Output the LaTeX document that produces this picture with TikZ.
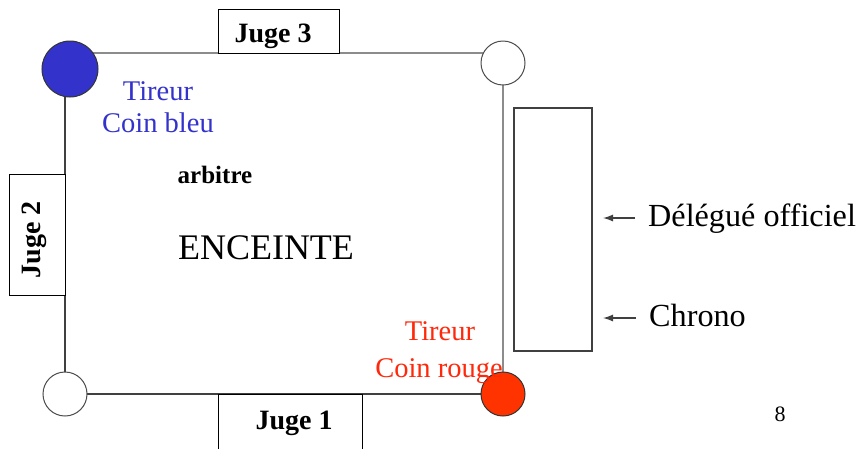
\documentclass[tikz,border=0pt]{standalone}
\usepackage{fontspec}
\setmainfont{Liberation Serif}
\usetikzlibrary{arrows.meta}
\definecolor{tblue}{RGB}{51,51,204}
\definecolor{tred}{RGB}{255,51,0}
\definecolor{tredtxt}{RGB}{255,40,10}
\begin{document}
\begin{tikzpicture}[x=1pt,y=-1pt,
  judge/.style={draw=black,line width=1pt,fill=white,inner sep=0pt,font=\fontsize{28}{28}\selectfont\bfseries},
  corner/.style={circle,draw=black!70,line width=1pt,inner sep=0pt,minimum size=44pt,fill=white},
  lbl/.style={inner sep=0pt,font=\fontsize{32.2}{32.2}\selectfont},
  tir/.style={inner sep=0pt,align=center,font=\fontsize{28.5}{36}\selectfont},
  ptr/.style={-{Latex[length=10pt,width=7pt]},line width=1.3pt,black!75}]
\clip (0,0) rectangle (863,448);
\fill[white] (0,0) rectangle (863,448);
% ring corners
\coordinate (TL) at (65,53);
\coordinate (TR) at (503,53);
\coordinate (BR) at (503,394);
\coordinate (BL) at (65,394);
\draw[black!45,line width=2pt] (TL) -- (TR);
\draw[black!45,line width=2pt] (TR) -- (BR);
\draw[black!75,line width=1.2pt] (TL) -- (BL);
\draw[black!75,line width=1.2pt] (BL) -- (BR);
% corner circles
\node[corner,minimum size=56pt,fill=tblue,draw=black!80] (blue) at (70,69) {};
\node[corner] (ctr) at (503,63) {};
\node[corner] (cbl) at (65,394) {};
\node[corner,fill=tred,draw=black!80] (red) at (503,394) {};
% judges
\node[judge,minimum width=121pt,minimum height=44pt] (j3) at (278.5,31) {};
\node[inner sep=0pt,font=\fontsize{28}{28}\selectfont\bfseries,anchor=base] at (273,42) {Juge 3};
\node[judge,minimum width=56pt,minimum height=121pt] (j2) at (37,234.5) {};
\node[inner sep=0pt,font=\fontsize{28}{28}\selectfont\bfseries,rotate=90] at (34,240) {Juge 2};
\node[judge,minimum width=144pt,minimum height=70pt] (j1) at (290,429) {};
\node[inner sep=0pt,font=\fontsize{28}{28}\selectfont\bfseries,anchor=base] at (294,429) {Juge 1};
% texts
\node[tir,text=tblue,anchor=base] (tb) at (158,100) {Tireur};
\node[tir,text=tblue,anchor=base] (tb2) at (158,132) {Coin bleu};
\node[tir,text=tredtxt,anchor=base] (tr) at (440,340) {Tireur};
\node[tir,text=tredtxt,anchor=base] (tr2) at (439,377) {Coin rouge};
\node[inner sep=0pt,anchor=base,font=\fontsize{25}{25}\selectfont\bfseries] (arb) at (215,183) {arbitre};
\node[inner sep=0pt,anchor=base,font=\fontsize{36}{36}\selectfont] (enc) at (266,259) {ENCEINTE};
% table
\node[draw=black!75,line width=1.2pt,minimum width=78pt,minimum height=243pt,inner sep=0pt] (table) at (553,229.5) {};
\node[lbl,anchor=base west] (del) at (648,226) {Délégué officiel};
\node[lbl,anchor=base west] (chr) at (649,326) {Chrono};
\coordinate (adel) at (603,218);
\coordinate (achr) at (603,318);
\draw[ptr] (del.west |- adel) ++(-13,0) coordinate (sdel) -- (adel);
\draw[ptr] (chr.west |- achr) ++(-13,0) coordinate (schr) -- (achr);
\node[inner sep=0pt,anchor=base,font=\fontsize{22}{22}\selectfont] (pg) at (780,421) {8};
\end{tikzpicture}
\end{document}
